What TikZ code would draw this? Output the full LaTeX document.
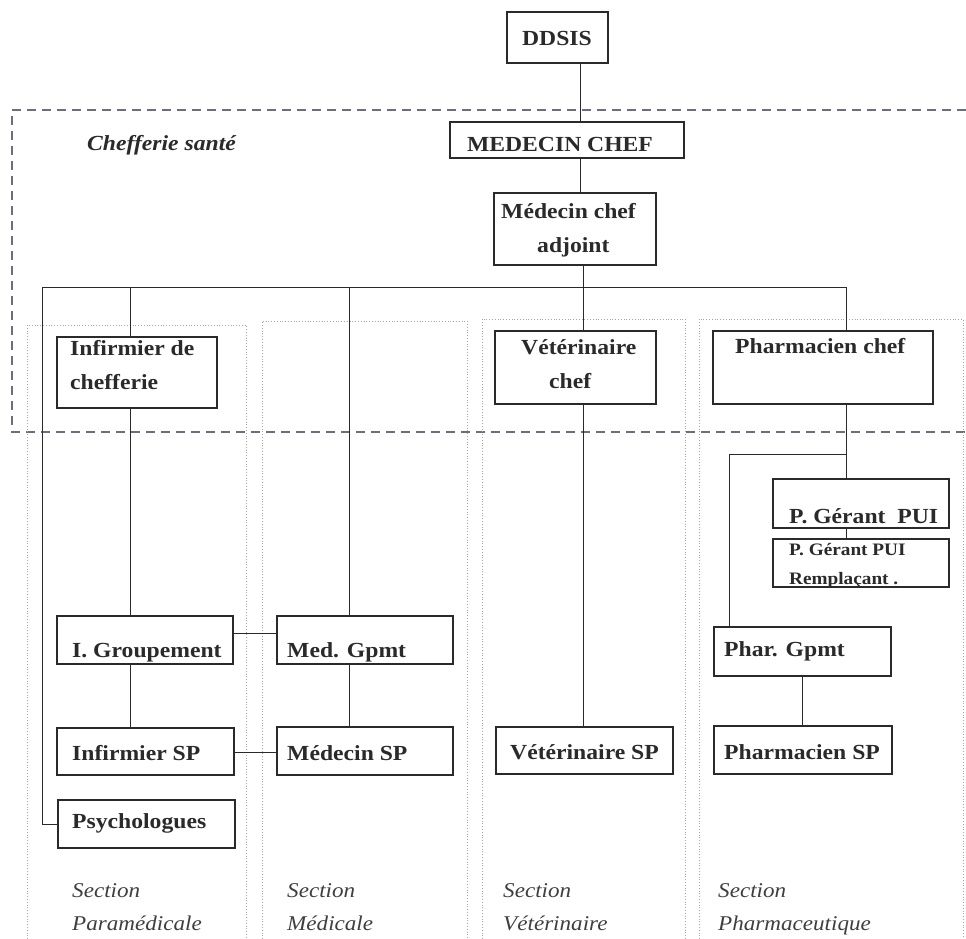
\documentclass[tikz,border=0pt]{standalone}
\usepackage{fontspec}
\setmainfont{Liberation Serif}[FakeStretch=1.1]
\usetikzlibrary{fit}
\definecolor{ink}{HTML}{2A2A2A}
\definecolor{dashc}{HTML}{6A6E80}
\definecolor{dotc}{HTML}{A0A4B4}
\newcommand\lftwo[3][0pt]{\vtop{\hbox{#2}\hbox{\hspace*{#1}#3}}}
\begin{document}
\begin{tikzpicture}[x=1pt,y=-1pt,
  box/.style={draw=ink, line width=1.1pt, fill=white, inner sep=0pt},
  txt/.style={inner sep=0pt, anchor=base west, text=ink, font=\bfseries\fontsize{21.5}{34}\selectfont},
  smalltxt/.style={txt, font=\bfseries\fontsize{17.5}{29}\selectfont},
  sectxt/.style={inner sep=0pt, anchor=base west, text=ink!90, font=\itshape\fontsize{21}{33}\selectfont},
  titletxt/.style={inner sep=0pt, anchor=base west, text=ink, font=\bfseries\itshape\fontsize{21.5}{34}\selectfont},
  conn/.style={draw=ink, line width=1pt},
  chef/.style={draw=dashc, line width=1.2pt, dash pattern=on 9pt off 6pt},
  sect/.style={draw=dotc, line width=0.8pt, dotted}]
\useasboundingbox (0,0) rectangle (966,939);
\fill[white] (0,0) rectangle (966,939);

% chefferie dashed frame
\draw[chef] (966,110) -- (12,110) -- (12,432) -- (966,432);
% section dotted frames
\draw[sect] (27,939) -- (27,325) -- (246,325) -- (246,939);
\draw[sect] (262,939) -- (262,321) -- (467,321) -- (467,939);
\draw[sect] (482,939) -- (482,319) -- (685,319) -- (685,939);
\draw[sect] (699,939) -- (699,319) -- (963,319) -- (963,939);

% boxes
\node[box, fit={(507,12)(608,63)}] (ddsis) {};
\node[box, fit={(450,122)(684,158)}] (mc) {};
\node[box, fit={(494,193)(656,265)}] (mca) {};
\node[box, fit={(57,337)(217,408)}] (inf) {};
\node[box, fit={(495,331)(656,404)}] (vet) {};
\node[box, fit={(713,331)(933,404)}] (phc) {};
\node[box, fit={(773,479)(949,528)}] (pg1) {};
\node[box, fit={(773,539)(949,587)}] (pg2) {};
\node[box, fit={(57,616)(233,664)}] (igr) {};
\node[box, fit={(277,616)(453,664)}] (medg) {};
\node[box, fit={(57,728)(234,775)}] (isp) {};
\node[box, fit={(277,727)(453,775)}] (msp) {};
\node[box, fit={(58,800)(235,848)}] (psy) {};
\node[box, fit={(496,727)(673,774)}] (vsp) {};
\node[box, fit={(714,627)(891,676)}] (phg) {};
\node[box, fit={(714,726)(892,774)}] (psp) {};

% helper coordinates
\coordinate (x580) at (580,0);
\coordinate (bar) at (583,287);
\coordinate (barL) at (42,287);
\coordinate (barR) at (846,287);
\coordinate (k130) at (130,287);
\coordinate (k349) at (349,287);
\coordinate (pj) at (846,454);
\coordinate (pjL) at (729,454);
\coordinate (x802) at (802,0);
\coordinate (y633) at (0,633);
\coordinate (y752) at (0,752);

% connectors
\draw[conn] (ddsis.south -| x580) -- (mc.north -| x580);
\draw[conn] (mc.south -| x580) -- (mca.north -| x580);
\draw[conn] (mca.south -| bar) -- (bar);
\draw[conn] (barL) -- (barR);
\draw[conn] (k130) -- (inf.north -| k130);
\draw[conn] (k349) -- (medg.north -| k349);
\draw[conn] (bar) -- (vet.north -| bar);
\draw[conn] (barR) -- (phc.north -| barR);
\draw[conn] (barL) |- (psy.west);
\draw[conn] (inf.south -| k130) -- (igr.north -| k130);
\draw[conn] (igr.south -| k130) -- (isp.north -| k130);
\draw[conn] (medg.south -| k349) -- (msp.north -| k349);
\draw[conn] (vet.south -| bar) -- (vsp.north -| bar);
\draw[conn] (phc.south -| barR) -- (pg1.north -| barR);
\draw[conn] (pj) -- (pjL) -- (phg.north -| pjL);
\draw[conn] (pg1.south -| barR) -- (pg2.north -| barR);
\draw[conn] (igr.east |- y633) -- (medg.west |- y633);
\draw[conn] (isp.east |- y752) -- (msp.west |- y752);
\draw[conn] (phg.south -| x802) -- (psp.north -| x802);

% texts
\node[titletxt] (tchef) at (87,150) {Chefferie santé};
\node[txt, anchor=base] (tddsis) at (557,46) {DDSIS};
\node[txt, anchor=base] (tmc) at (560,151) {MEDECIN CHEF};
\node[txt] (tmca) at (501,218) {\lftwo[36pt]{Médecin chef}{adjoint}};
\node[txt] (tinf) at (70,355) {\lftwo{Infirmier de}{chefferie}};
\node[txt] (tvet) at (521,354) {\lftwo[28pt]{Vétérinaire}{chef}};
\node[txt] (tphc) at (735,353) {Pharmacien chef};
\node[txt] (tpg1) at (789,523) {P. Gérant\ \ PUI};
\node[smalltxt] (tpg2) at (789,555) {\lftwo{P. Gérant PUI}{Remplaçant .}};
\node[txt] (tigr) at (72,657) {I. Groupement};
\node[txt] (tmedg) at (287,657) {Med. Gpmt};
\node[txt] (tisp) at (72,760) {Infirmier SP};
\node[txt] (tmsp) at (287,760) {Médecin SP};
\node[txt] (tpsy) at (72,828) {Psychologues};
\node[txt] (tvsp) at (510,759) {Vétérinaire SP};
\node[txt] (tphg) at (724,656) {Phar. Gpmt};
\node[txt] (tpsp) at (724,759) {Pharmacien SP};

\node[sectxt] (s1) at (72,897) {\lftwo{Section}{Paramédicale}};
\node[sectxt] (s2) at (287,897) {\lftwo{Section}{Médicale}};
\node[sectxt] (s3) at (503,897) {\lftwo{Section}{Vétérinaire}};
\node[sectxt] (s4) at (718,897) {\lftwo{Section}{Pharmaceutique}};
\end{tikzpicture}
\end{document}
